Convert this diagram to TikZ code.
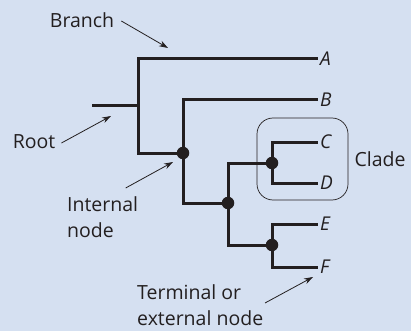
\documentclass[tikz,border=0pt]{standalone}
\usepackage{fontspec}
\setsansfont{Open Sans}
\usetikzlibrary{arrows.meta,positioning}
\definecolor{panelblue}{HTML}{D5E0F1}
\definecolor{inkblack}{HTML}{231F20}

\begin{document}
\begin{tikzpicture}[
		x=1pt, y=-1pt,
		font=\sffamily\fontsize{19.5}{26.5}\selectfont,
		tree/.style={line width=3pt, draw=inkblack},
		dot/.style={circle, fill=inkblack, minimum size=12.5pt, inner sep=0pt},
		leaf/.style={anchor=west, inner sep=0pt, text=inkblack, font=\sffamily\itshape\fontsize{19}{26}\selectfont},
		term/.style={align=left, inner sep=0pt, text=inkblack},
		pointer/.style={-{Stealth[length=9pt, width=6pt]}, line width=0.8pt, draw=inkblack},
		clade/.style={draw=inkblack, line width=0.7pt, rounded corners=16pt},
	]

	% background panel
	\fill[panelblue] (0,0) rectangle (411,331);
	\useasboundingbox (0,0) rectangle (411,331);

	% x coordinates
	\def\xroot{92}
	\def\xsplit{138}
	\def\xone{183}
	\def\xtwo{228}
	\def\xthree{272}
	\def\xtip{318}

	% branching points
	\coordinate (root) at (\xroot,106);
	\coordinate (split) at (\xsplit,106);
	\node[dot] (n1) at (\xone,153) {};
	\node[dot] (n2) at (\xtwo,203) {};
	\node[dot] (n3) at (\xthree,163) {};
	\node[dot] (n4) at (\xthree,245) {};

	% tips
	\coordinate (A) at (\xtip,59);
	\coordinate (B) at (\xtip,100);
	\coordinate (C) at (\xtip,142);
	\coordinate (D) at (\xtip,183);
	\coordinate (E) at (\xtip,224);
	\coordinate (F) at (\xtip,267);
	\foreach \tip in {A,...,F}
		\node[leaf] (lab\tip) at ([xshift=2pt]\tip) {\tip};

	% branches
	\draw[tree] (root) -- (split);
	\draw[tree] (split) |- (A);
	\draw[tree] (split) |- (n1);
	\draw[tree] (n1) |- (B);
	\draw[tree] (n1) |- (n2);
	\draw[tree] (n2) |- (n3);
	\draw[tree] (n2) |- (n4);
	\draw[tree] (n3) |- (C);
	\draw[tree] (n3) |- (D);
	\draw[tree] (n4) |- (E);
	\draw[tree] (n4) |- (F);

	% clade outline
	\node[clade, minimum width=91pt, minimum height=82pt] (cladebox) at (302.5,159) {};
	\node[term, anchor=west] (cladelabel) at ([xshift=6pt]cladebox.east) {Clade};

	% terms and pointers
	\node[term] (branchlabel) at (82,20) {Branch};
	\coordinate (branchtip) at (168,48);
	\draw[pointer] ([shift={(7,1)}]branchlabel.east) -- (branchtip);

	\node[term] (rootlabel) at (34,142) {Root};
	\coordinate (roottip) at (111,116);
	\draw[pointer] ([shift={(6,1)}]rootlabel.east) -- (roottip);

	\node[term, anchor=north west] (internallabel) at (67,196) {Internal\\node};
	\coordinate (internaltip) at (173,162);
	\draw[pointer] ([shift={(23,-8)}]internallabel.north) -- (internaltip);

	\node[term, anchor=north west] (terminallabel) at (137,284) {Terminal or\\external node};
	\coordinate (terminaltip) at (313,277);
	\draw[pointer] ([shift={(128,19)}]terminallabel.north west) -- (terminaltip);

\end{tikzpicture}
\end{document}
